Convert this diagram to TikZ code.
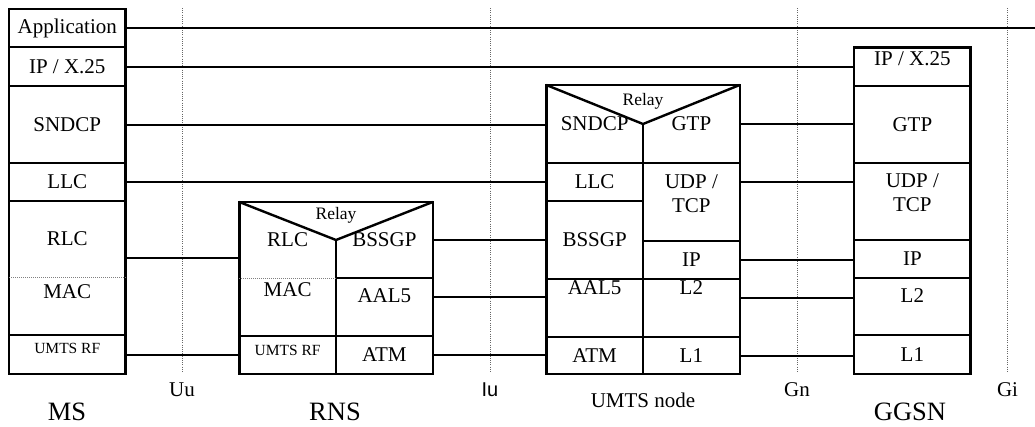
\documentclass[tikz,border=0pt]{standalone}
\usepackage{fontspec}
\setmainfont{Liberation Serif}
\newfontfamily\iufont{Liberation Sans}
\usetikzlibrary{calc}

\begin{document}
\begin{tikzpicture}[x=1pt,y=-1pt,
  every node/.style={font=\fontsize{21}{24}\selectfont},
  cell/.style={draw=black,line width=2.4pt,inner sep=0pt,outer sep=0pt,align=center,minimum height=#1},
  cell/.default=38pt,
  wide/.style={minimum width=116.5pt},
  half/.style={minimum width=96.7pt},
  lift/.style={text depth=#1},
  small/.style={font=\fontsize{15.5}{18}\selectfont},
  relaytxt/.style={font=\fontsize{17.5}{20}\selectfont},
  big/.style={font=\fontsize{26.5}{30}\selectfont},
  frame/.style={draw=black,line width=2.4pt},
  link/.style={line width=2pt},
  divline/.style={gray,line width=0.8pt,dash pattern=on 1pt off 1pt},
  refline/.style={gray!80!black,line width=0.8pt,dash pattern=on 1pt off 1.2pt}]
\useasboundingbox (0,0) rectangle (1035,426);
\node[cell,wide] (msapp) at (67.25,28) {Application};
\node[cell=39pt,wide] (msip) at (67.25,66.5) {IP / X.25};
\node[cell=77pt,wide] (mssn) at (67.25,124.5) {SNDCP};
\node[cell,wide] (msllc) at (67.25,182) {LLC};
\node[cell=76pt,wide,draw=none] (msrlc) at (67.25,239) {RLC};
\node[cell=58pt,wide,draw=none,lift=28pt] (msmac) at (67.25,306) {MAC};
\node[cell=39pt,wide,small,lift=12pt] (msrf) at (67.25,354.5) {UMTS RF};
\node[cell=76pt,half,draw=none] (rnsrlc) at (287.65,240) {RLC};
\node[cell=58pt,half,draw=none,lift=34pt] (rnsmac) at (287.65,307) {MAC};
\node[cell=76pt,half,draw=none] (rnsbss) at (384.35,240) {BSSGP};
\node[cell=58pt,half,lift=22pt] (rnsaal) at (384.35,307) {AAL5};
\node[cell,half,small,lift=10pt] (rnsrf) at (287.65,355) {UMTS RF};
\node[cell,half] (rnsatm) at (384.35,355) {ATM};
\node[relaytxt] (rnsrelay) at (336,215) {Relay};
\node[cell=78pt,half,draw=none] (usn) at (594.65,124) {SNDCP};
\node[cell=78pt,half,draw=none] (ugtp) at (691.35,124) {GTP};
\node[cell,half] (ullc) at (594.65,182) {LLC};
\node[cell=78pt,half] (ubss) at (594.65,240) {BSSGP};
\node[cell=78pt,half,lift=16pt] (uudp) at (691.35,202) {UDP /\\TCP};
\node[cell,half] (uip) at (691.35,260) {IP};
\node[cell=58pt,half,lift=41pt] (uaal) at (594.65,308) {AAL5};
\node[cell=58pt,half,lift=41pt] (ul2) at (691.35,308) {L2};
\node[cell=37pt,half] (uatm) at (594.65,355.5) {ATM};
\node[cell=37pt,half] (ul1) at (691.35,355.5) {L1};
\node[relaytxt] (urelay) at (643,101) {Relay};
\node[cell=38.7pt,wide,lift=17pt] (gip) at (912.35,66.65) {IP / X.25};
\node[cell=77pt,wide] (ggtp) at (912.35,124.5) {GTP};
\node[cell=77pt,wide,lift=17pt] (gudp) at (912.35,201.5) {UDP /\\TCP};
\node[cell,wide] (gipp) at (912.35,259) {IP};
\node[cell=57pt,wide,lift=21pt] (gl2) at (912.35,306.5) {L2};
\node[cell=39pt,wide] (gl1) at (912.35,354.5) {L1};
\node (uu) at (182,390) {Uu};
\node[font=\iufont\fontsize{20}{24}\selectfont] (iu) at (490,390) {Iu};
\node (gn) at (797,390) {Gn};
\node (gi) at (1007.5,390) {Gi};
\node[big] (ms) at (67,412) {MS};
\node[big] (rns) at (335,412) {RNS};
\node (umts) at (643,400) {UMTS node};
\node[big] (ggsn) at (910,412) {GGSN};
\draw[frame] (msrlc.north west) rectangle (msmac.south east);
\draw[divline] (msrlc.south west) -- (msrlc.south east);
\draw[frame] (rnsrlc.north west) rectangle (rnsaal.south east);
\draw[frame] (rnsrlc.north west) -- (rnsrlc.east) -- (rnsbss.north east);
\draw[frame] (rnsrlc.east) -- (rnsrlc.south east);
\draw[divline] (rnsrlc.south west) -- (rnsrlc.south east);
\draw[frame] (usn.north west) rectangle (ugtp.south east);
\draw[frame] (usn.north west) -- (usn.east) -- (ugtp.north east);
\draw[frame] (usn.east) -- (usn.south east);
\foreach \r in {uu,iu,gn,gi} \draw[refline] (\r.north |- 0,8) -- (\r.north |- 0,373);
\coordinate (append) at (1035,28);
\draw[link] (msapp.east) -- (msapp.east -| append);
\foreach \a/\b/\s in {msip/gip/0pt,mssn/usn/0pt,msllc/ullc/0pt,msrlc/rnsrlc/-19pt,msrf/rnsrf/0pt,
    rnsbss/ubss/0pt,rnsaal/uaal/10pt,rnsatm/uatm/0pt,ugtp/ggtp/0pt,uudp/gudp/20pt,uip/gipp/0pt,ul2/gl2/10pt,ul1/gl1/0pt}
  \draw[link] ([yshift=\s]\a.east) coordinate (p) -- (p -| \b.west);
\end{tikzpicture}
\end{document}
